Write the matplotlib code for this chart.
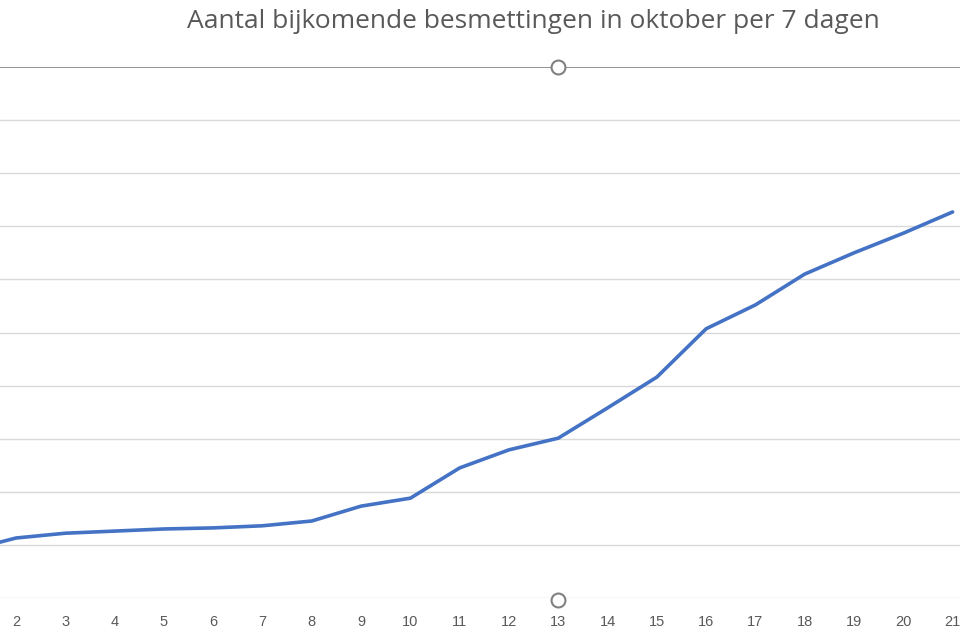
import matplotlib
import matplotlib.pyplot as plt

matplotlib.use('Agg')

days = list(range(1, 22))
cases = [0.89, 1.13, 1.22, 1.26, 1.30, 1.32, 1.36, 1.45, 1.73, 1.88, 2.45,
         2.79, 3.01, 3.58, 4.16, 5.07, 5.52, 6.10, 6.50, 6.87, 7.27]
title = "Aantal bijkomende besmettingen in oktober per 7 dagen"

fig = plt.figure(figsize=(9.6, 6.4), dpi=100)
ax = fig.add_axes([0, 1 - 598 / 640, 1, (598 - 67) / 640])

for v in range(1, 10):
    ax.axhline(v, color='#d9d9d9', lw=1, zorder=1)
ax.axhline(10, color='#808080', lw=1.2, zorder=1)
ax.axhline(0, color='#d9d9d9', lw=1, zorder=1)

ax.plot(days, cases, color='#4472C4', lw=2.6, solid_capstyle='round', zorder=3)

# selection handles
ax.plot([13, 13], [10, -0.04], 'o', ms=10, mfc='white', mec='#808080', mew=1.5,
        clip_on=False, zorder=4)

for s in ax.spines.values():
    s.set_visible(False)
ax.set_yticks([])
ax.set_xticks(days[1:])
ax.set_xticklabels([str(d) for d in days[1:]])
ax.tick_params(axis='x', length=0, pad=12, labelsize=10.5, labelcolor='#595959')
for lab in ax.get_xticklabels():
    lab.set_fontfamily('Liberation Sans')
ax.set_xlim(1.675, 21.15)
ax.set_ylim(0, 10)

fig.text(533 / 960, 1 - 22 / 640, title, ha='center', va='center',
         fontsize=19, color='#595959', family='Open Sans')

fig.savefig('out.png', dpi=100)
